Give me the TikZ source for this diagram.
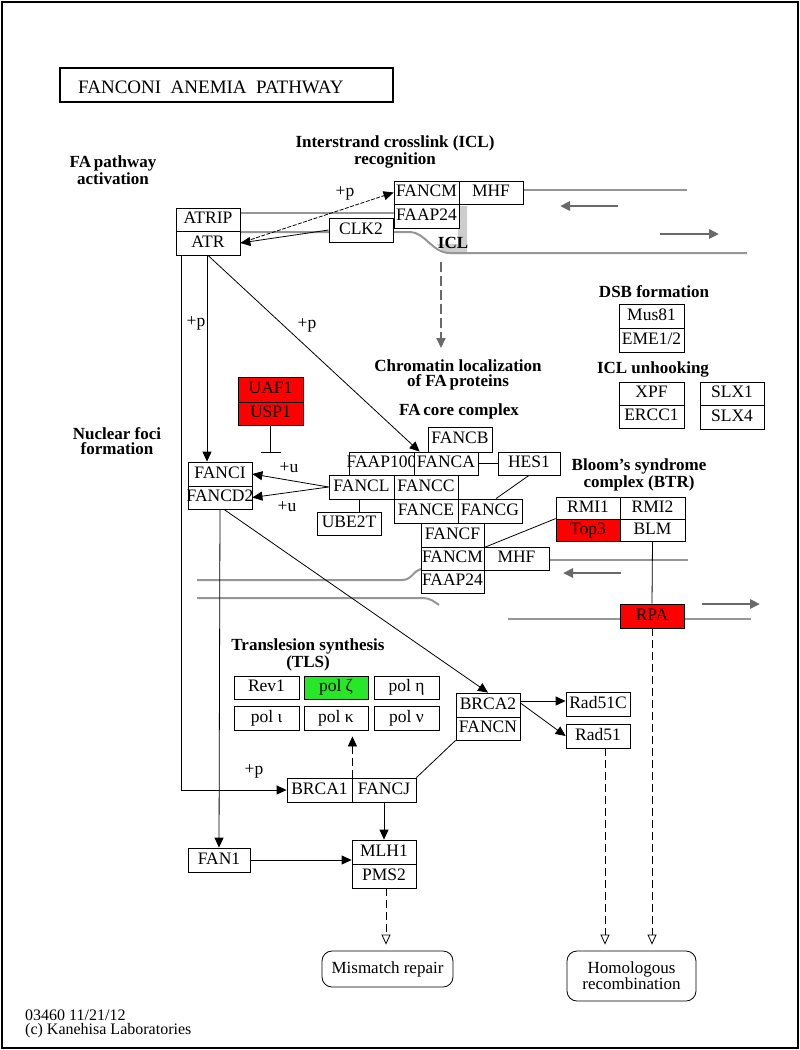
\documentclass[tikz,border=0pt]{standalone}
\usepackage{fontspec}
\setmainfont{Liberation Serif}
\usetikzlibrary{arrows.meta}
\definecolor{kred}{RGB}{255,0,0}
\definecolor{kgreen}{RGB}{40,230,40}
\definecolor{strandgray}{RGB}{150,150,150}
\definecolor{arrgray}{RGB}{105,105,105}
\definecolor{blobgray}{RGB}{205,205,205}
\tikzset{
 kbox/.style={draw, line width=0.8pt, fill=white, text=black, inner sep=0pt, text height=12pt, text depth=3.5pt, font=\fontsize{17.5}{17.5}\selectfont},
 rbox/.style={draw, line width=0.8pt, rounded corners=10pt, fill=white, inner sep=0pt, font=\fontsize{17}{16}\selectfont, align=center},
 lab/.style={font=\bfseries\fontsize{17}{15}\selectfont, align=center, inner sep=0pt},
 mod/.style={font=\fontsize{17.5}{17.5}\selectfont, inner sep=0pt},
 act/.style={line width=0.8pt, -{Triangle[length=10pt,width=9pt]}},
 link/.style={line width=0.8pt},
 inhib/.style={line width=0.8pt, -{Bar[width=20pt]}},
 indirect/.style={line width=0.8pt, dash pattern=on 8pt off 4pt, -{Triangle[open,length=10pt,width=9pt]}},
 dashact/.style={line width=0.8pt, dash pattern=on 8pt off 4pt, -{Triangle[length=10pt,width=9pt]}},
 fineact/.style={line width=0.8pt, dash pattern=on 4pt off 1.5pt, -{Triangle[length=10pt,width=9pt]}},
 strand/.style={draw=strandgray, line width=2pt},
 garrow/.style={draw=arrgray, line width=2.5pt, -{Triangle[length=10pt,width=9pt]}},
 gdash/.style={draw=arrgray, line width=2pt, dash pattern=on 10pt off 4pt, -{Triangle[length=10pt,width=9pt]}},
}
\newcommand\kb[7][]{\node[kbox,#1,minimum width=#5pt-#3pt,minimum height=#6pt-#4pt] (#2) at ({(#3+#5)/2},{(#4+#6)/2}) {\makebox[0pt]{#7}};}
\begin{document}
\begin{tikzpicture}[x=1pt,y=-1pt]
\useasboundingbox (0,0) rectangle (800,1050);
\fill[white] (0,0) rectangle (800,1050);
\draw[line width=1.6pt] (2,2) rectangle (798,1048);

% title
\node[draw, line width=2pt, minimum width=333pt, minimum height=34pt, inner sep=0pt] (title) at (226.5,85) {};
\node[anchor=west, font=\fontsize{19}{19}\selectfont, inner sep=0pt] (titletext) at (78,87) {FANCONI\ \ ANEMIA\ \ PATHWAY};

% DNA strands (top)
\fill[blobgray] (458,206) -- (467,206) -- (467,254) -- (452,254) .. controls (444,253) and (440,249) .. (437,244) -- (458,244) -- cycle;
\draw[strand] (240,213) -- (400,213);
\draw[strand] (523,190) -- (687,190);
\draw[strand] (240,232) -- (410,232) .. controls (425,232) and (432,253) .. (450,253) -- (747,253);
\draw[garrow] (618,206) -- (560,206);
\draw[garrow] (660,234) -- (719,234);

% DNA strands (bottom)
\draw[strand] (197,580) -- (402,580) .. controls (412,580) and (414,570) .. (421,569);
\draw[strand] (197,598) -- (423,598) .. controls (430,598) and (435,602) .. (439,605);
\draw[strand] (549,560) -- (688,560);
\draw[strand] (508,619) -- (751,619);
\draw[garrow] (621,573) -- (563,573);
\draw[garrow] (702,604) -- (760,604);

% labels
\node[lab] (lICL) at (395,152) {Interstrand crosslink (ICL)\\recognition};
\node[lab] (lFA) at (113,170) {FA\,pathway\\activation};
\node[lab] (lchrom) at (458,375) {Chromatin localization\\of FA\,proteins};
\node[lab] (lcore) at (459,411) {FA\,core complex};
\node[lab] (ldsb) at (654,292) {DSB formation};
\node[lab] (lunh) at (653,369) {ICL unhooking};
\node[lab] (lnuc) at (117,441) {Nuclear foci\\formation};
\node[lab] (lblm) at (639,475) {Bloom's syndrome\\complex (BTR)};
\node[lab] (ltls) at (308,655) {Translesion synthesis\\(TLS)};
\node[lab] (icl) at (453,243) {ICL};

% boxes
\kb{atrip}{176}{208}{240}{231}{ATRIP}
\kb{atr}{176}{231}{240}{255}{ATR}
\kb{fancmT}{394}{181}{459}{204}{FANCM}
\kb{mhfT}{459}{181}{523}{204}{MHF}
\kb{faap24T}{394}{204}{459}{228}{FAAP24}
\kb{clk2}{329}{218}{393}{242}{CLK2}
\kb{mus81}{619}{304}{684}{328}{Mus81}
\kb{eme}{619}{328}{684}{352}{EME1/2}
\kb{xpf}{619}{382}{684}{405}{XPF}
\kb{ercc1}{619}{405}{684}{428}{ERCC1}
\kb{slx1}{700}{382}{764}{405}{SLX1}
\kb{slx4}{700}{405}{764}{429}{SLX4}
\kb[fill=kred]{uaf1}{238}{377}{303}{402}{UAF1}
\kb[fill=kred]{usp1}{238}{402}{303}{425}{USP1}
\kb{fanci}{188}{462}{252}{486}{FANCI}
\kb{fancd2}{188}{486}{252}{509}{FANCD2}
\kb{fancb}{428}{427}{492}{452}{FANCB}
\kb{faap100}{349}{452}{414}{475}{FAAP100}
\kb{fanca}{414}{452}{478}{475}{FANCA}
\kb{hes1}{498}{452}{560}{475}{HES1}
\kb{fancl}{329}{475}{394}{499}{FANCL}
\kb{fancc}{394}{475}{458}{499}{FANCC}
\kb{fance}{394}{499}{458}{523}{FANCE}
\kb{fancg}{458}{499}{522}{523}{FANCG}
\kb{ube2t}{317}{512}{381}{535}{UBE2T}
\kb{fancf}{421}{523}{484}{547}{FANCF}
\kb{fancmB}{421}{547}{484}{570}{FANCM}
\kb{mhfB}{484}{547}{549}{570}{MHF}
\kb{faap24B}{421}{570}{484}{593}{FAAP24}
\kb{rmi1}{556}{497}{620}{519}{RMI1}
\kb{rmi2}{620}{497}{685}{519}{RMI2}
\kb[fill=kred]{top3}{556}{519}{620}{541}{Top3}
\kb{blm}{620}{519}{685}{541}{BLM}
\kb[fill=kred]{rpa}{620}{604}{684}{628}{RPA}
\kb{rev1}{234}{676}{299}{699}{Rev1}
\kb[fill=kgreen]{polz}{304}{676}{368}{699}{pol ζ}
\kb{poleta}{374}{676}{439}{699}{pol η}
\kb{poli}{234}{706}{299}{730}{pol ι}
\kb{polk}{304}{706}{368}{730}{pol κ}
\kb{polnu}{374}{706}{439}{730}{pol ν}
\kb{brca2}{456}{693}{520}{717}{BRCA2}
\kb{fancn}{456}{717}{520}{740}{FANCN}
\kb{rad51c}{566}{692}{630}{716}{Rad51C}
\kb{rad51}{566}{724}{630}{748}{Rad51}
\kb{brca1}{287}{778}{352}{802}{BRCA1}
\kb{fancj}{352}{778}{416}{802}{FANCJ}
\kb{fan1}{188}{848}{250}{872}{FAN1}
\kb{mlh1}{352}{840}{416}{864}{MLH1}
\kb{pms2}{352}{864}{416}{888}{PMS2}
\node[rbox, minimum width=131pt, minimum height=36pt] (mr) at (387.5,969) {Mismatch repair};
\node[rbox, minimum width=129pt, minimum height=50pt] (hr) at (631.5,976) {Homologous\\recombination};

% modification labels
\node[mod] (p1) at (345,193) {+p};
\node[mod] (p2) at (196,323) {+p};
\node[mod] (p3) at (307,325) {+p};
\node[mod] (p4) at (254,771) {+p};
\node[mod] (u1) at (289,468) {+u};
\node[mod] (u2) at (287,507) {+u};

% ICL -> chromatin localization
\coordinate (iclA) at (441,262);
\coordinate (iclB) at (441,348);
\draw[gdash] (iclA) -- (iclB);

% connectors
\draw[fineact] (atr.east) -- (fancmT.west);
\draw[act] (clk2.west) -- (atr.east);
\draw[act] ([xshift=-1pt]atr.south) -- ([xshift=-1pt]atr.south |- fanci.north);
\draw[act] ([xshift=6pt]atr.south west) |- (brca1.west);
\draw[act] (atr.south) -- ([xshift=6pt]fanca.north west);
\coordinate (inhend) at (270.5,453);
\draw[inhib] (usp1.south) -- (inhend);
\draw[act] (fancl.west) -- (fanci.east);
\draw[act] (fancl.west) -- (fancd2.east);
\draw[link] ([xshift=-2pt]fancl.south) -- ([xshift=-2pt]fancl.south |- ube2t.north);
\draw[link] (fanca.east) -- (hes1.west);
\draw[link] (hes1.south) -- ([xshift=6pt]fancg.north);
\draw[link] (fancf.south east) -- (top3.north west);
\draw[link] (blm.south) -- (rpa.north);
\draw[act] ([xshift=4pt]fancd2.south) -- (brca2.north);
\draw[act] (fancd2.south) -- (fan1.north);
\draw[act] ([yshift=4pt]brca2.east) -- ([yshift=4pt]brca2.east -| rad51c.west);
\draw[act] ([yshift=2pt]brca2.east) -- (rad51.west);
\draw[link] (fancn.south west) -- (fancj.north east);
\draw[dashact, shorten >=6pt] (brca1.north east) -- (brca1.north east |- polk.south);
\draw[act] (fancj.south) -- (mlh1.north);
\draw[act] (fan1.east) -- (fan1.east -| mlh1.west);
\draw[indirect, shorten >=6pt] ([xshift=2pt]pms2.south) -- ([xshift=2pt]pms2.south |- mr.north);
\draw[indirect, shorten >=6pt] ([xshift=7pt]rad51.south) -- ([xshift=7pt]rad51.south |- hr.north);
\draw[indirect, shorten >=6pt] (rpa.south) -- (rpa.south |- hr.north);

% footer
\node[anchor=north west, inner sep=0pt, align=left, font=\fontsize{16}{14}\selectfont] (footer) at (25,1010) {03460 11/21/12\\(c) Kanehisa Laboratories};
\end{tikzpicture}
\end{document}
